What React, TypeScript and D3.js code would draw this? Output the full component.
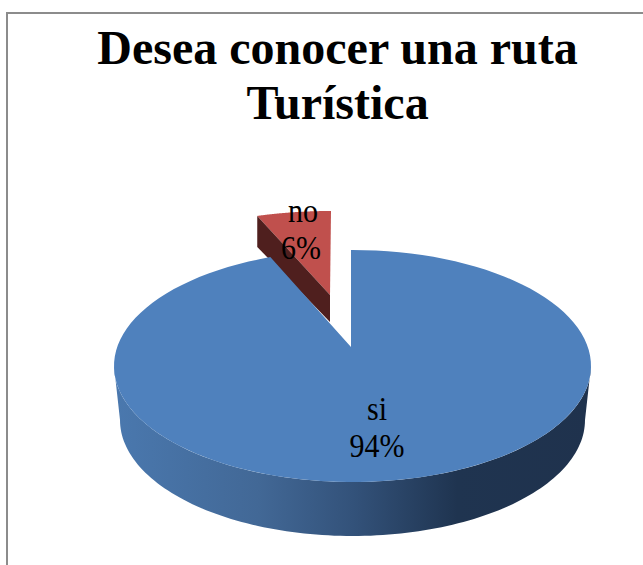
import React from "react";
import * as d3 from "d3";

const categories = ["si", "no"];
const values = [94.4, 5.6];
const percentLabels = ["94%", "6%"];
const titleLines = ["Desea conocer una ruta", "Turística"];

const pieAngles = d3.pie<number>().sort(null).startAngle(0).endAngle(2 * Math.PI)(values);

const px = (c: { cx: number; cy: number; rx: number; ry: number }, a: number): [number, number] => [
  c.cx + c.rx * Math.sin(a),
  c.cy - c.ry * Math.cos(a),
];

const arcPath = (
  c: { cx: number; cy: number; rx: number; ry: number },
  a0: number,
  a1: number,
  move = false
) => {
  const p = d3.path();
  const steps = 120;
  const scale = d3.scaleLinear().domain([0, steps]).range([a0, a1]);
  d3.range(steps + 1).forEach((i) => {
    const [x, y] = px(c, scale(i));
    if (i === 0 && move) p.moveTo(x, y);
    else p.lineTo(x, y);
  });
  return p.toString();
};

const Label = ({ x, y, text }: { x: number; y: number; text: string }) => (
  <text transform={`translate(${x},${y}) scale(1,1.1)`}>{text}</text>
);

export default function App() {
  const si = pieAngles[0];
  const no = pieAngles[1];

  const top = { cx: 352.5, cy: 366, rx: 238.5, ry: 116 };
  const bottom = { cx: 352.5, cy: 420, rx: 232.5, ry: 116 };
  const apex = [351, 347];

  const siTop = `M${apex[0]},${apex[1]}L${apex[0]},250` + arcPath(top, si.startAngle, si.endAngle) + "Z";
  const side =
    arcPath(top, (3 * Math.PI) / 2, Math.PI / 2, true) +
    arcPath(bottom, Math.PI / 2, (3 * Math.PI) / 2) +
    "Z";

  const noFace = { cx: 331, cy: 291, rx: 214, ry: 80 };
  const noApex = [330, 295];
  const noTop = `M${noApex[0]},${noApex[1]}` + arcPath(noFace, no.startAngle, no.endAngle) + "Z";
  const noLeft = px(noFace, no.startAngle);
  const depth = 27;
  const noWall = `M${noLeft[0]},${noLeft[1]}L${noApex[0]},${noApex[1]}L${noApex[0]},${noApex[1] + depth}L${noLeft[0]},${noLeft[1] + depth + 4}Z`;

  const serif = "'Liberation Serif', serif";

  return (
    <svg width={643} height={565} style={{ position: "absolute", left: 0, top: 0, background: "#fff" }}>
      <defs>
        <linearGradient id="side" gradientUnits="userSpaceOnUse" x1={116} x2={590} y1={0} y2={0}>
          <stop offset="0" stopColor="#4a78ae" />
          <stop offset="0.3" stopColor="#426896" />
          <stop offset="0.5" stopColor="#33527a" />
          <stop offset="0.72" stopColor="#1f3450" />
          <stop offset="1" stopColor="#1f324d" />
        </linearGradient>
      </defs>
      <path d="M7,565V13H643" fill="none" stroke="#8c8c8c" strokeWidth={2} />
      {titleLines.map((t, i) => (
        <text
          key={t}
          x={337.5}
          y={64 + i * 55}
          textAnchor="middle"
          fontFamily={serif}
          fontWeight="bold"
          fontSize={48}
          fill="#000"
        >
          {t}
        </text>
      ))}
      <path d={noTop} fill="#c0504d" />
      <path d={noWall} fill="#4f1f1e" />
      <path d={side} fill="url(#side)" />
      <path d={siTop} fill="#4f81bd" />
      <g fontFamily={serif} fontSize={30} fill="#000" textAnchor="middle">
        <Label x={303} y={222} text={categories[1]} />
        <Label x={301} y={259} text={percentLabels[1]} />
        <Label x={377} y={420} text={categories[0]} />
        <Label x={377} y={457} text={percentLabels[0]} />
      </g>
    </svg>
  );
}
